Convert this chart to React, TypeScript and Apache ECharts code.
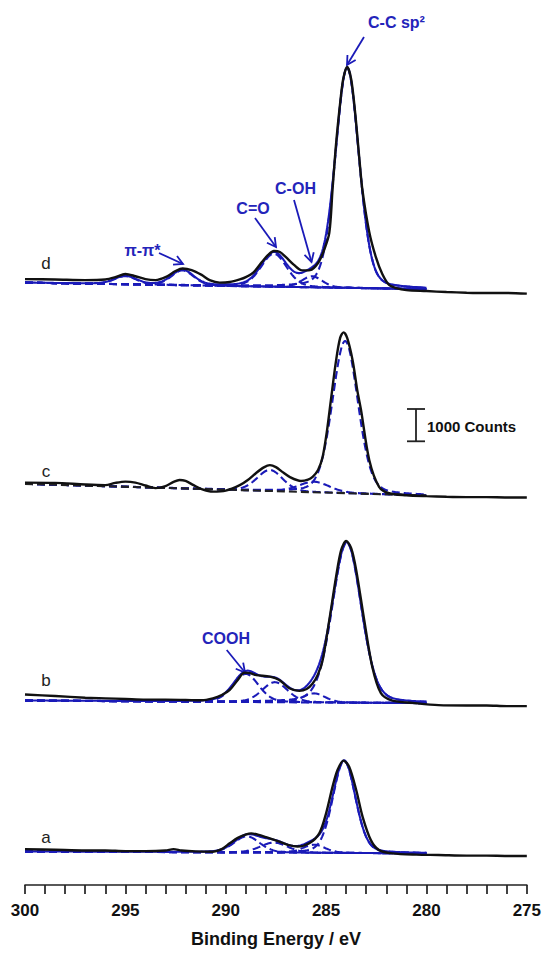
import React, { useEffect, useRef } from 'react';
import * as echarts from 'echarts';

const W = 544;
const H = 956;
const GRID = { left: 25, right: 16, top: 13, bottom: 71 };
const Y_MAX = 27000;

const BLUE = '#1a1ab8';
const TEXT_BLUE = '#2424ba';
const INK = '#111111';
const FONT = '"Liberation Sans", Arial, Helvetica, sans-serif';

// ---- axis ----
const X_MIN = 275;
const X_MAX = 300;
const X_INTERVAL = 5;
const FIT_START = 300;
const FIT_END = 280;
const LORENTZ_FRACTION = 0.2;

// ---- spectrum d (measured) ----
const energyD = [300, 298.5, 297, 296, 295.5, 295, 294.5, 294, 293.5, 293, 292.5, 292.15, 291.7, 291.2, 290.8, 290.3, 289.8, 289.3, 289, 288.6, 288.2, 287.9, 287.6, 287.3, 287, 286.6, 286.2, 285.8, 285.4, 285.1, 284.84, 284.68, 284.5, 284.3, 284.15, 283.95, 283.75, 283.55, 283.35, 283.19, 282.85, 282.52, 282.2, 281.86, 281.5, 281, 280, 279, 278, 277, 276, 275];
const countsD = [18760, 18750, 18730, 18750, 18820, 18920, 18850, 18760, 18730, 18820, 19010, 19090, 19040, 18890, 18730, 18650, 18670, 18750, 18820, 18980, 19290, 19500, 19630, 19600, 19440, 19200, 19030, 19040, 19260, 19660, 20190, 21520, 22970, 24210, 24950, 25330, 24950, 23900, 22540, 21520, 20220, 19440, 18920, 18580, 18480, 18420, 18390, 18360, 18340, 18330, 18330, 18310];
// fit d
const centersD = [295.0, 292.15, 287.6, 285.7, 283.95];
const heightsD = [250, 460, 1020, 340, 6810];
const fwhmD = [1.3, 1.3, 1.5, 1.2, 1.38];
const baselineD = [18650, 18450];

// ---- spectrum c ----
const energyC = [300, 298.5, 297, 296, 295.5, 295, 294.5, 294, 293.5, 293, 292.6, 292.3, 292, 291.6, 291.2, 290.65, 290, 289.3, 288.9, 288.5, 288.1, 287.8, 287.5, 287.2, 286.8, 286.25, 285.9, 285.67, 285.4, 285.17, 284.95, 284.76, 284.5, 284.3, 284.13, 283.95, 283.68, 283.45, 283.26, 282.85, 282.36, 281.86, 281, 280, 279, 278, 277, 276, 275];
const countsC = [12460, 12450, 12400, 12380, 12450, 12490, 12460, 12370, 12290, 12350, 12480, 12540, 12510, 12380, 12260, 12180, 12210, 12380, 12540, 12750, 12930, 13000, 12940, 12800, 12630, 12510, 12550, 12640, 12850, 13260, 14090, 15020, 16250, 16940, 17110, 16940, 16250, 15330, 14710, 13160, 12330, 12130, 12070, 12040, 12020, 12010, 12010, 12000, 12000];
const centersC = [287.8, 285.6, 284.05];
const heightsC = [650, 325, 4710];
const fwhmC = [1.5, 1.8, 1.5];
const baselineC = [12420, 12060];

// ---- spectrum b ----
const energyB = [300, 298.5, 297, 296, 295, 294, 293, 292, 291.2, 290.64, 290.2, 289.8, 289.4, 289.07, 288.8, 288.48, 287.8, 287.33, 286.83, 286.33, 285.97, 285.67, 285.4, 285.17, 284.84, 284.5, 284.25, 284, 283.75, 283.5, 283.1, 282.7, 282.27, 281.7, 280.7, 279.4, 278, 277, 276, 275];
const countsB = [5900, 5850, 5800, 5780, 5760, 5740, 5740, 5730, 5720, 5780, 5880, 6040, 6350, 6570, 6560, 6500, 6450, 6350, 6090, 6010, 6070, 6240, 6530, 6970, 8200, 9550, 10370, 10650, 10430, 9750, 8200, 6760, 5940, 5710, 5640, 5570, 5560, 5560, 5540, 5540];
const centersB = [289.0, 287.55, 285.6, 283.97];
const heightsB = [870, 620, 280, 4950];
const fwhmB = [1.5, 1.5, 1.3, 1.7];
const baselineB = [5710, 5630];

// ---- spectrum a ----
const energyA = [300, 298.5, 297, 296, 295, 294, 293, 292.6, 292.2, 291.5, 290.64, 290.2, 289.8, 289.4, 288.98, 288.73, 288.4, 287.99, 287.33, 286.9, 286.42, 285.84, 285.34, 285, 284.68, 284.43, 284.13, 283.85, 283.5, 283.18, 282.77, 282.36, 281.7, 280.5, 279.4, 278, 277, 276, 275];
const countsA = [1110, 1090, 1070, 1070, 1050, 1050, 1070, 1110, 1070, 1040, 1030, 1110, 1290, 1460, 1570, 1600, 1560, 1480, 1340, 1240, 1190, 1290, 1600, 2220, 3040, 3560, 3850, 3660, 2940, 2110, 1390, 1080, 980, 940, 930, 910, 910, 900, 900];
const centersA = [288.95, 287.6, 285.6, 284.1];
const heightsA = [500, 310, 250, 2850];
const fwhmA = [1.5, 1.6, 1.3, 1.33];
const baselineA = [1040, 980];

// ---- labels ----
const SPECTRUM_LABELS = ['d', 'c', 'b', 'a'];
const SCALE_COUNTS = 1000;
const SCALE_TEXT = '1000 Counts';
const X_TITLE = 'Binding Energy / eV';

type Spec = {
  energy: number[];
  counts: number[];
  centers: number[];
  heights: number[];
  fwhm: number[];
  baseline: number[];
  envelope: boolean;
  baselineColor: string;
};

const spectra: Spec[] = [
  { energy: energyD, counts: countsD, centers: centersD, heights: heightsD, fwhm: fwhmD, baseline: baselineD, envelope: true, baselineColor: BLUE },
  { energy: energyC, counts: countsC, centers: centersC, heights: heightsC, fwhm: fwhmC, baseline: baselineC, envelope: false, baselineColor: '#222222' },
  { energy: energyB, counts: countsB, centers: centersB, heights: heightsB, fwhm: fwhmB, baseline: baselineB, envelope: true, baselineColor: BLUE },
  { energy: energyA, counts: countsA, centers: centersA, heights: heightsA, fwhm: fwhmA, baseline: baselineA, envelope: true, baselineColor: BLUE },
];

function pseudoVoigt(e: number, c: number, h: number, w: number) {
  const t = ((e - c) * (e - c)) / (w * w);
  return h * ((1 - LORENTZ_FRACTION) * Math.exp(-4 * Math.LN2 * t) + LORENTZ_FRACTION / (1 + 4 * t));
}

function buildSeries() {
  const series: any[] = [];
  const grid: number[] = [];
  for (let i = 0; i <= Math.round((FIT_START - FIT_END) / 0.05); i++) {
    grid.push(+(FIT_START - i * 0.05).toFixed(2));
  }
  spectra.forEach((s) => {
    const base = (e: number) => s.baseline[0] + ((s.baseline[1] - s.baseline[0]) * (FIT_START - e)) / (FIT_START - FIT_END);
    s.centers.forEach((c, k) => {
      series.push({
        type: 'line',
        data: grid.map((e) => [e, base(e) + pseudoVoigt(e, c, s.heights[k], s.fwhm[k])]),
        symbol: 'none',
        silent: true,
        z: 2,
        lineStyle: { color: BLUE, width: 2.1, type: [8, 4] },
      });
    });
    series.push({
      type: 'line',
      data: [[FIT_START, s.baseline[0]], [FIT_END, s.baseline[1]]],
      symbol: 'none',
      silent: true,
      z: 2,
      lineStyle: { color: s.baselineColor, width: 2.1, type: [8, 4] },
    });
    if (s.envelope) {
      series.push({
        type: 'line',
        data: grid.map((e) => [e, base(e) + s.centers.reduce((acc, c, k) => acc + pseudoVoigt(e, c, s.heights[k], s.fwhm[k]), 0)]),
        symbol: 'none',
        silent: true,
        z: 3,
        lineStyle: { color: BLUE, width: 2.1 },
      });
    }
    series.push({
      type: 'line',
      data: s.energy.map((e, k) => [e, s.counts[k]]),
      symbol: 'none',
      smooth: 0.3,
      silent: true,
      z: 4,
      lineStyle: { color: INK, width: 2.4 },
    });
  });
  return series;
}

function arrow(x1: number, y1: number, x2: number, y2: number) {
  const ang = Math.atan2(y2 - y1, x2 - x1);
  const L = 10;
  const a = 0.5;
  const p1 = [x2 - L * Math.cos(ang - a), y2 - L * Math.sin(ang - a)];
  const p2 = [x2 - L * Math.cos(ang + a), y2 - L * Math.sin(ang + a)];
  return [
    { type: 'line', shape: { x1, y1, x2, y2 }, style: { stroke: BLUE, lineWidth: 1.8 }, silent: true },
    { type: 'polyline', shape: { points: [p1, [x2, y2], p2] }, style: { stroke: BLUE, lineWidth: 1.8, fill: null }, silent: true },
  ];
}

function txt(text: string, x: number, y: number, font: string, fill: string, align = 'center') {
  return {
    type: 'text',
    x,
    y,
    silent: true,
    style: { text, font, fill, align, verticalAlign: 'middle', textAlign: align, textVerticalAlign: 'middle' },
  };
}

export default function App() {
  const ref = useRef<HTMLDivElement>(null);
  useEffect(() => {
    if (!ref.current) return;
    const chart = echarts.init(ref.current, undefined, { renderer: 'svg' });
    const barLen = (SCALE_COUNTS * (H - GRID.top - GRID.bottom)) / Y_MAX;
    const barX = 416;
    const barTop = 409;
    const annFont = `bold 16px ${FONT}`;
    const letterFont = `17px ${FONT}`;
    const letterPos = [[46, 263], [46, 471], [46, 680], [46, 837]];
    const graphic: any[] = [
      ...SPECTRUM_LABELS.map((l, i) => txt(l, letterPos[i][0], letterPos[i][1], letterFont, '#222222')),
      txt('C-C sp²', 368, 22, annFont, TEXT_BLUE, 'left'),
      ...arrow(364, 37, 347, 65),
      txt('C-OH', 295.5, 188, annFont, TEXT_BLUE),
      ...arrow(294, 200, 311.5, 262),
      txt('C=O', 253, 208, annFont, TEXT_BLUE),
      ...arrow(255, 218, 276, 247),
      txt('π-π*', 142.5, 250, annFont, TEXT_BLUE),
      ...arrow(159, 253, 183, 264),
      txt('COOH', 226, 638.5, annFont, TEXT_BLUE),
      ...arrow(226.7, 650, 245, 672.5),
      { type: 'line', silent: true, shape: { x1: barX, y1: barTop, x2: barX, y2: barTop + barLen }, style: { stroke: '#222', lineWidth: 1.8 } },
      { type: 'line', silent: true, shape: { x1: barX - 9, y1: barTop, x2: barX + 9, y2: barTop }, style: { stroke: '#222', lineWidth: 1.8 } },
      { type: 'line', silent: true, shape: { x1: barX - 9, y1: barTop + barLen, x2: barX + 9, y2: barTop + barLen }, style: { stroke: '#222', lineWidth: 1.8 } },
      txt(SCALE_TEXT, barX + 11, barTop + barLen / 2 + 1, `bold 15px ${FONT}`, '#111111', 'left'),
    ];
    chart.setOption({
      animation: false,
      backgroundColor: '#ffffff',
      grid: { ...GRID },
      xAxis: {
        type: 'value',
        min: X_MIN,
        max: X_MAX,
        interval: X_INTERVAL,
        inverse: true,
        position: 'bottom',
        axisLine: { show: true, onZero: false, lineStyle: { color: '#222', width: 1.7 } },
        axisTick: { show: true, inside: false, length: 9, lineStyle: { color: '#222', width: 1.7 } },
        minorTick: { show: true, splitNumber: 5, length: 9, lineStyle: { color: '#222', width: 1.7 } },
        splitLine: { show: false },
        minorSplitLine: { show: false },
        axisLabel: { margin: 17, color: '#111', fontSize: 17, fontWeight: 'bold', fontFamily: FONT },
        name: X_TITLE,
        nameLocation: 'middle',
        nameGap: 45,
        nameTextStyle: { color: '#111', fontSize: 18, fontWeight: 'bold', fontFamily: FONT },
      },
      yAxis: { type: 'value', min: 0, max: Y_MAX, show: false, splitLine: { show: false } },
      series: buildSeries(),
      graphic,
    });
    return () => chart.dispose();
  }, []);
  return <div ref={ref} style={{ position: 'fixed', left: 0, top: 0, width: W, height: H, background: '#fff' }} />;
}
